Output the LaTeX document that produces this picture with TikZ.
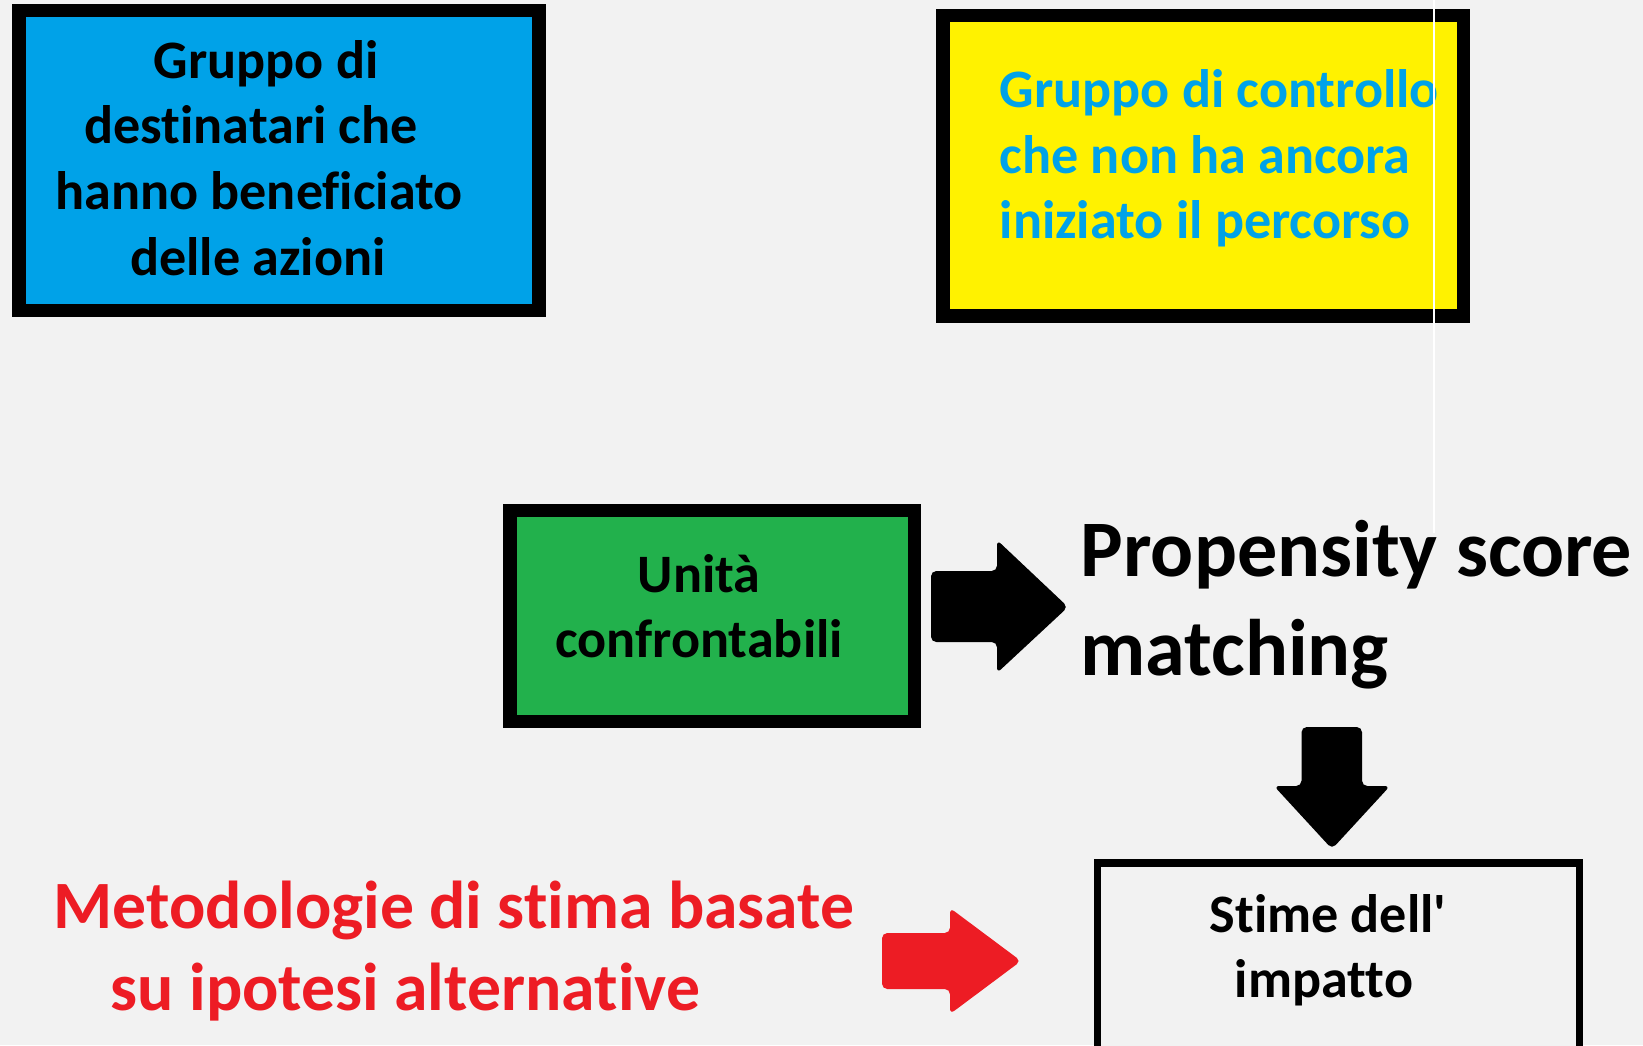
\documentclass[tikz,border=0pt]{standalone}
\usepackage{fontspec}
\setmainfont{Carlito}[Ligatures={TeX,CommonOff}]
\definecolor{bgc}{HTML}{F2F2F2}
\definecolor{boxblue}{HTML}{00A2E8}
\definecolor{boxyellow}{HTML}{FFF200}
\definecolor{boxgreen}{HTML}{22B14C}
\definecolor{txtred}{HTML}{ED1C24}
\tikzset{
  framebox/.style={draw=black, line width=0.135cm},
  thinframe/.style={draw=black, line width=0.075cm},
  txt/.style={inner sep=0pt, font=\fontsize{15.4pt}{18.7pt}\selectfont\bfseries},
  bigtxt/.style={inner sep=0pt, font=\fontsize{22.8pt}{28pt}\selectfont\bfseries},
  redtxt/.style={inner sep=0pt, text=txtred, font=\fontsize{19.25pt}{23pt}\selectfont\bfseries},
  blockarrow/.style={rounded corners=1.5pt}
}
\begin{document}
\begin{tikzpicture}[x=0.01cm, y=-0.01cm]
\useasboundingbox (0,0) rectangle (1643,1045);
\fill[bgc] (0,0) rectangle (1643,1045);
\clip (0,0) rectangle (1643,1045);

% boxes
\draw[framebox, fill=boxblue] (19,10.7) rectangle (539,310.5);
\draw[framebox, fill=boxyellow] (943,15.3) rectangle (1463.5,316);
\draw[framebox, fill=boxgreen] (510,510.5) rectangle (914.5,721.5);
\draw[thinframe, fill=bgc] (1097.5,863) rectangle (1579.5,1070);

% blue box text
\node[txt, anchor=base] (b1) at (266,78) {Gruppo di};
\node[txt, anchor=base] (b2) at (251,143) {destinatari che};
\node[txt, anchor=base] (b3) at (259,209) {hanno beneficiato};
\node[txt, anchor=base] (b4) at (258,275) {delle azioni};

% yellow box text
\node[txt, text=boxblue, anchor=base west] (y1) at (999,107) {Gruppo di controllo};
\node[txt, text=boxblue, anchor=base west] (y2) at (999,173) {che non ha ancora};
\node[txt, text=boxblue, anchor=base west] (y3) at (999,238) {iniziato il percorso};

% green box text
\node[txt, anchor=base] (g1) at (699,592) {Unità};
\node[txt, anchor=base] (g2) at (699,657) {confrontabili};

% propensity
\node[bigtxt, anchor=base west] (p1) at (1080,576) {Propensity score};
\node[bigtxt, anchor=base west] (p2) at (1080,675) {matching};

% red text
\node[redtxt, anchor=base west] (r1) at (53,928) {Metodologie di stima basate};
\node[redtxt, anchor=base west] (r2) at (110,1010) {su ipotesi alternative};

% stime box text
\node[txt, anchor=base] (s1) at (1328,932) {Stime dell\textquotesingle};
\node[txt, anchor=base] (s2) at (1324,997) {impatto};

% block arrows
\fill[black, blockarrow] (931,571) -- (997,571) -- (997,540) -- (1068,607) -- (997,673) -- (997,642) -- (931,642) -- cycle;
\fill[black, blockarrow] (1301.5,727) -- (1362,727) -- (1362,786) -- (1390,786) -- (1332,849) -- (1274,786) -- (1301.5,786) -- cycle;
\fill[txtred, blockarrow] (882,933) -- (950,933) -- (950,908) -- (1021,961) -- (950,1014) -- (950,989) -- (882,989) -- cycle;

% thin white artefact line
\draw[white, line width=0.015cm] (1434,0) -- (1434,533);
\end{tikzpicture}
\end{document}
